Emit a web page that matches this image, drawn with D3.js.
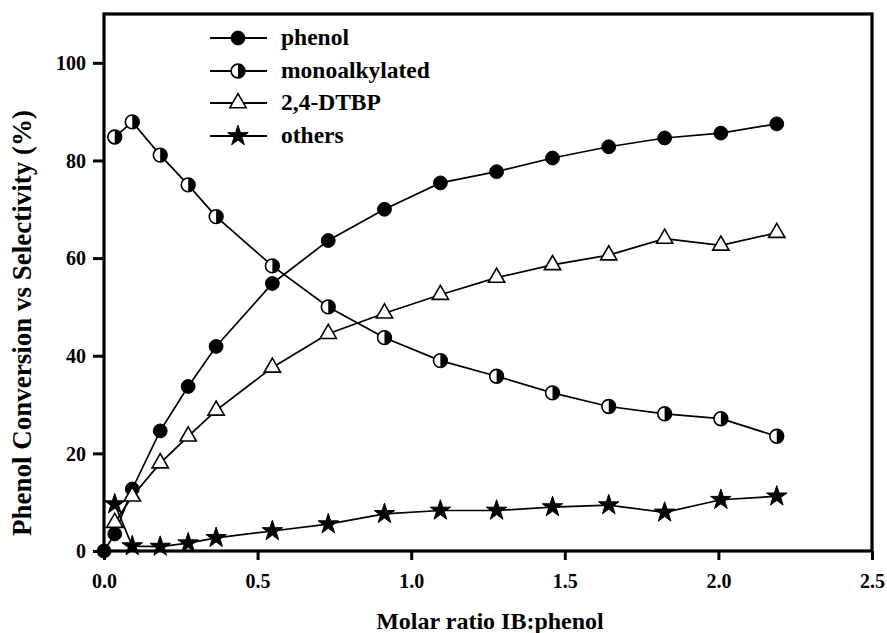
<!DOCTYPE html>
<html>
<head>
<meta charset="utf-8">
<script src="https://cdn.jsdelivr.net/npm/d3@7"></script>
<style>
  html, body { margin: 0; padding: 0; background: #fff; }
  svg { display: block; }
  text { font-family: "Liberation Serif", "Times New Roman", serif; font-weight: bold; fill: #000; }
</style>
</head>
<body>
<svg id="chart" width="887" height="633"></svg>
<script>
// Molar ratio IB:phenol at which each sample was taken
const ratio = [0.035, 0.092, 0.183, 0.274, 0.365, 0.548, 0.73, 0.913, 1.095, 1.278, 1.46, 1.643, 1.825, 2.008, 2.19];

// Phenol conversion starts from the origin
const phenolRatio = [0].concat(ratio);
const phenol = [0, 3.5, 12.7, 24.6, 33.7, 41.9, 54.8, 63.6, 70.0, 75.4, 77.7, 80.5, 82.8, 84.6, 85.6, 87.5];

// Selectivities (%)
const monoalkylated = [84.8, 87.9, 81.1, 75.0, 68.5, 58.4, 50.0, 43.7, 39.0, 35.8, 32.4, 29.6, 28.1, 27.1, 23.5];
const dtbp = [5.8, 11.2, 18.0, 23.5, 28.8, 37.6, 44.5, 48.7, 52.5, 56.0, 58.6, 60.6, 64.0, 62.6, 65.2];
const others = [9.6, 1.0, 0.9, 1.6, 2.7, 4.1, 5.5, 7.6, 8.3, 8.3, 9.0, 9.4, 7.9, 10.5, 11.2];

const xTicks = [0, 0.5, 1.0, 1.5, 2.0, 2.5];
const yTicks = [0, 20, 40, 60, 80, 100];
const legendLabels = ["phenol", "monoalkylated", "2,4-DTBP", "others"];

const svg = d3.select("#chart");
const plot = { left: 104, right: 872, top: 14, bottom: 551 };

const x = d3.scaleLinear().domain([0, 2.5]).range([plot.left, plot.right]);
const y = d3.scaleLinear().domain([0, 110]).range([plot.bottom, plot.top]);

// Axes
const xAxis = d3.axisBottom(x).tickValues(xTicks).tickFormat(d3.format(".1f")).tickSize(9).tickSizeOuter(0).tickPadding(14);
const yAxis = d3.axisLeft(y).tickValues(yTicks).tickFormat(d3.format("d")).tickSize(11).tickSizeOuter(0).tickPadding(7);

const gx = svg.append("g").attr("transform", `translate(0,${plot.bottom})`).call(xAxis);
const gy = svg.append("g").attr("transform", `translate(${plot.left},0)`).call(yAxis);
[gx, gy].forEach(g => {
  g.select(".domain").remove();
  g.selectAll(".tick line").attr("stroke", "#000").attr("stroke-width", 3);
  g.selectAll(".tick text").style("font-size", "20px").style("font-family", "'Liberation Serif', serif").style("font-weight", "bold");
});
gy.selectAll(".tick text").attr("dy", "0.34em");

// Frame
svg.append("rect")
  .attr("x", plot.left).attr("y", plot.top)
  .attr("width", plot.right - plot.left).attr("height", plot.bottom - plot.top)
  .attr("fill", "none").attr("stroke", "#000").attr("stroke-width", 3.2);

// Axis titles
svg.append("text")
  .attr("x", 490).attr("y", 629)
  .attr("text-anchor", "middle")
  .style("font-size", "24px")
  .text("Molar ratio IB:phenol");

svg.append("text")
  .attr("transform", "translate(31,323) rotate(-90)")
  .attr("text-anchor", "middle")
  .style("font-size", "27px")
  .text("Phenol Conversion vs Selectivity (%)");

// Marker drawing helpers
const circleSym = d3.symbol().type(d3.symbolCircle).size(150);
const triSym = d3.symbol().type(d3.symbolTriangle).size(115);
const starSym = d3.symbol().type(d3.symbolStar).size(130);
const R = 6.9;
const halfRight = `M0,${-R}A${R},${R} 0 0,1 0,${R}Z`;

function marker(g, kind) {
  if (kind === "phenol") {
    g.append("path").attr("d", circleSym()).attr("fill", "#000").attr("stroke", "#000").attr("stroke-width", 1);
  } else if (kind === "mono") {
    g.append("circle").attr("r", R).attr("fill", "#fff").attr("stroke", "#000").attr("stroke-width", 1.6);
    g.append("path").attr("d", halfRight).attr("fill", "#000");
  } else if (kind === "dtbp") {
    g.append("path").attr("d", triSym()).attr("fill", "#fff").attr("stroke", "#000").attr("stroke-width", 1.6);
  } else {
    g.append("path").attr("d", starSym()).attr("fill", "#000").attr("stroke", "#000").attr("stroke-width", 1);
  }
}

const series = [
  { kind: "phenol", xs: phenolRatio, ys: phenol },
  { kind: "mono", xs: ratio, ys: monoalkylated },
  { kind: "dtbp", xs: ratio, ys: dtbp },
  { kind: "star", xs: ratio, ys: others }
];

const line = d3.line().x(d => x(d[0])).y(d => y(d[1]));

series.forEach(s => {
  const pts = s.xs.map((v, i) => [v, s.ys[i]]);
  svg.append("path").datum(pts).attr("d", line)
    .attr("fill", "none").attr("stroke", "#000").attr("stroke-width", 1.7);
});
series.forEach(s => {
  s.xs.forEach((v, i) => {
    const g = svg.append("g").attr("transform", `translate(${x(v)},${y(s.ys[i])})`);
    marker(g, s.kind);
  });
});

// Legend
const legend = svg.append("g");
const rowY = [38, 71, 103, 136];
series.forEach((s, i) => {
  const ly = rowY[i];
  legend.append("line").attr("x1", 210).attr("x2", 267).attr("y1", ly).attr("y2", ly)
    .attr("stroke", "#000").attr("stroke-width", 2);
  const g = legend.append("g").attr("transform", `translate(238,${ly})`);
  marker(g, s.kind);
  legend.append("text").attr("x", 281).attr("y", ly + 7)
    .style("font-size", "23.5px").text(legendLabels[i]);
});
</script>
</body>
</html>
